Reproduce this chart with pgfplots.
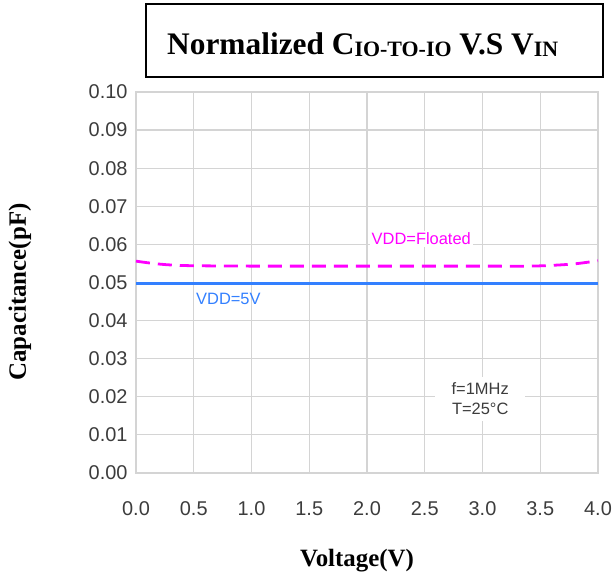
\documentclass[border=0pt]{standalone}
\usepackage{fontspec}
\setmainfont{Liberation Serif}
\setsansfont{Liberation Sans}
\usepackage{pgfplots}
\pgfplotsset{compat=1.18}
\definecolor{gridgray}{RGB}{212,212,212}
\definecolor{ticktext}{RGB}{60,60,60}
\definecolor{lineblue}{RGB}{51,128,255}
\definecolor{magentaline}{RGB}{255,0,255}
\begin{document}
\begin{tikzpicture}
\useasboundingbox (-136bp,-107bp) rectangle (480bp,473bp);
\begin{axis}[
  at={(0,0)}, anchor=south west,
  scale only axis, width=462bp, height=381bp,
  xmin=0, xmax=4, ymin=0, ymax=0.10,
  xtick={0,0.5,1,1.5,2,2.5,3,3.5,4},
  xticklabels={0.0,0.5,1.0,1.5,2.0,2.5,3.0,3.5,4.0},
  ytick={0,0.01,0.02,0.03,0.04,0.05,0.06,0.07,0.08,0.09,0.10},
  yticklabels={0.00,0.01,0.02,0.03,0.04,0.05,0.06,0.07,0.08,0.09,0.10},
  grid=major,
  major grid style={draw=gridgray, line width=1.2pt},
  axis line style={draw=gridgray, line width=1.2pt},
  major tick length=0pt,
  ticklabel style={font=\fontsize{20}{22}\selectfont\sffamily, text=ticktext},
  xticklabel style={yshift=-25bp, text height=14bp, text depth=0pt},
  yticklabel style={xshift=-5bp},
  clip=false,
]
\addplot[lineblue, line width=2.8pt] coordinates {(0,0.0498) (4,0.0498)};
\addplot[magentaline, line width=2.8pt, dash pattern=on 14bp off 8bp, smooth] coordinates {
 (0,0.0556) (0.15,0.0550) (0.3,0.0546) (0.5,0.0544) (1,0.0543) (1.5,0.0543) (2,0.0543)
 (2.5,0.0543) (3,0.0543) (3.4,0.0543) (3.6,0.0545) (3.8,0.0549) (4,0.0557)};
\node[fill=white, text=magentaline, font=\fontsize{16.5}{18}\selectfont\sffamily, inner sep=2pt] at (axis cs:2.47,0.0614) {VDD=Floated};
\node[text=lineblue, font=\fontsize{16.5}{18}\selectfont\sffamily, inner sep=1pt] at (axis cs:0.80,0.0457) {VDD=5V};
\node[fill=white, text=ticktext, font=\fontsize{16.5}{20}\selectfont\sffamily, align=center, minimum width=90bp, minimum height=44bp, inner sep=0pt] at (axis cs:2.98,0.0195) {f=1MHz\\T=25°C};
\end{axis}
\draw[line width=1.8bp] (10bp,396bp) rectangle (467bp,469bp);
\node[anchor=base west, inner sep=0pt, font=\fontsize{31.5}{36}\selectfont\bfseries] at (31bp,418bp)
  {Normalized C\raisebox{-1.5bp}{\fontsize{22}{26}\selectfont IO-TO-IO} V.S V\raisebox{-1.5bp}{\fontsize{22}{26}\selectfont IN}};
\node[rotate=90, font=\fontsize{25}{28}\selectfont\bfseries] at (-116bp,181bp) {Capacitance(pF)};
\node[font=\fontsize{25}{28}\selectfont\bfseries] at (221bp,-88bp) {Voltage(V)};
\end{tikzpicture}
\end{document}
